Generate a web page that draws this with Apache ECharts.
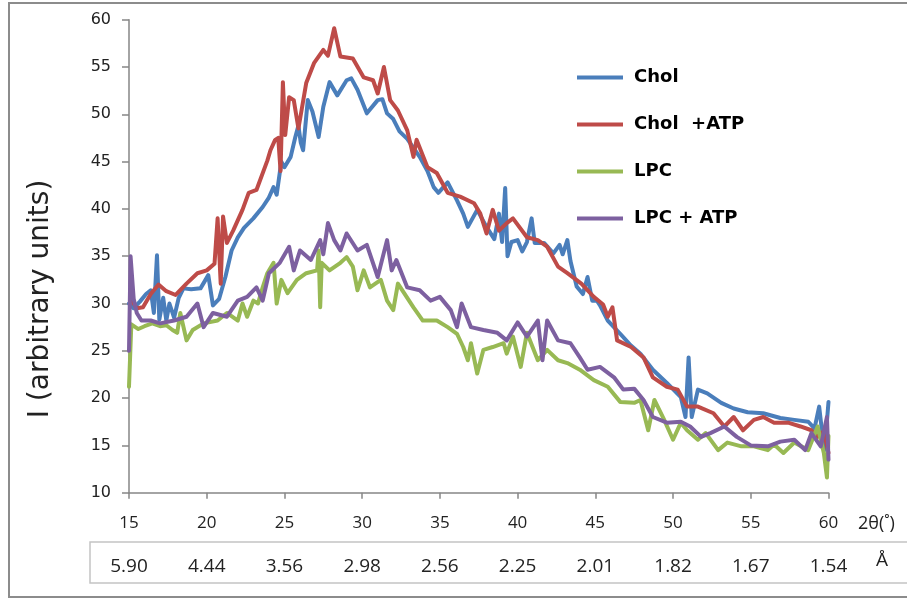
<!DOCTYPE html>
<html><head><meta charset="utf-8">
<script src="https://cdn.jsdelivr.net/npm/echarts@6/dist/echarts.min.js"></script>
<style>html,body{margin:0;padding:0;background:#fff}#c{width:907px;height:600px}</style>
</head><body><div id="c"></div>
<script>
const xTicks = [15,20,25,30,35,40,45,50,55,60];
const dSpacing = ['5.90','4.44','3.56','2.98','2.56','2.25','2.01','1.82','1.67','1.54'];
const seriesNames = ['Chol','Chol  +ATP','LPC','LPC + ATP'];

const cholX = [15.0,15.3,15.7,16.1,16.4,16.6,16.8,16.95,17.2,17.4,17.6,17.9,18.2,18.5,19.0,19.6,20.1,20.4,20.8,21.2,21.6,22.0,22.4,23.0,23.6,24.0,24.3,24.5,24.8,25.0,25.4,25.7,25.9,26.05,26.2,26.5,26.8,27.2,27.5,27.9,28.4,29.0,29.3,29.7,30.3,31.0,31.3,31.6,32.0,32.4,32.9,33.7,34.2,34.6,34.9,35.5,36.1,36.5,36.8,37.4,38.0,38.5,38.8,39.0,39.2,39.35,39.6,40.0,40.3,40.6,40.9,41.1,41.7,42.3,42.7,42.9,43.2,43.4,43.8,44.2,44.5,44.8,45.1,45.3,45.8,46.6,47.2,47.9,48.7,49.6,50.5,50.8,51.0,51.2,51.6,52.2,53.1,53.9,54.8,55.8,56.9,57.8,58.7,59.1,59.4,59.6,59.75,60.0];
const cholY = [30.0,29.5,30.2,31.0,31.4,29.0,35.1,28.3,30.6,28.2,30.0,28.5,30.6,31.6,31.5,31.6,33.0,29.8,30.5,32.8,35.6,37.0,38.0,39.0,40.2,41.2,42.3,41.5,45.0,44.4,45.5,47.6,48.8,47.0,46.2,51.5,50.3,47.6,50.8,53.4,52.0,53.6,53.8,52.6,50.1,51.5,51.6,50.1,49.5,48.2,47.4,45.5,44.0,42.3,41.7,42.8,40.9,39.5,38.1,39.9,38.1,36.8,39.5,36.5,42.2,35.0,36.5,36.7,35.5,36.5,39.0,36.4,36.4,35.3,36.2,35.2,36.7,34.5,31.8,31.0,32.8,30.3,30.3,29.8,28.2,26.8,25.7,24.7,23.0,21.6,20.1,18.0,24.3,18.0,20.9,20.5,19.5,18.9,18.5,18.4,17.9,17.7,17.5,16.8,19.1,16.2,14.5,19.6];

const cholAtpX = [15.1,15.5,15.9,16.4,16.9,17.4,18.0,18.7,19.4,20.0,20.5,20.7,20.9,21.05,21.3,21.7,22.3,22.7,23.2,23.9,24.1,24.4,24.6,24.75,24.9,25.05,25.3,25.6,25.9,26.4,26.9,27.5,27.8,28.2,28.6,29.4,30.1,30.7,31.0,31.4,31.8,32.3,32.9,33.3,33.5,34.2,34.8,35.5,36.3,37.2,37.6,38.0,38.4,38.8,39.3,39.7,40.6,41.3,41.9,42.6,43.2,44.1,44.9,45.5,45.8,46.1,46.4,47.3,48.1,48.7,49.6,50.3,50.9,51.6,52.6,53.3,53.9,54.5,55.2,55.8,56.5,57.4,58.2,58.9,59.3,59.7,60.0];
const cholAtpY = [30.5,29.5,29.6,31.0,32.0,31.3,30.9,32.1,33.2,33.5,34.2,39.0,32.1,39.2,36.4,37.7,39.9,41.7,42.0,45.1,46.2,47.3,47.5,44.0,53.4,47.8,51.8,51.5,48.5,53.3,55.4,56.8,56.2,59.1,56.1,55.9,53.9,53.6,52.2,55.0,51.5,50.4,48.3,45.5,47.3,44.4,43.8,41.7,41.3,40.6,39.5,37.4,39.9,37.7,38.5,39.0,37.0,36.7,36.0,33.9,33.2,32.1,30.7,29.9,28.6,29.6,26.1,25.4,24.3,22.2,21.2,20.9,19.1,19.1,18.4,17.0,18.0,16.6,17.7,18.0,17.4,17.4,17.0,16.6,15.9,16.5,14.2];

const lpcX = [15.0,15.15,15.6,16.0,16.5,17.0,17.4,17.8,18.1,18.3,18.7,19.1,19.8,20.7,21.3,22.0,22.3,22.6,23.0,23.3,23.6,23.9,24.3,24.5,24.8,25.2,25.8,26.4,27.1,27.2,27.3,27.4,27.9,28.6,29.0,29.4,29.7,30.1,30.5,31.2,31.6,32.0,32.3,33.3,33.9,34.8,35.5,36.1,36.5,36.8,37.0,37.4,37.8,38.4,39.1,39.3,39.7,40.2,40.6,41.3,41.9,42.6,43.2,44.0,44.9,45.8,46.6,47.5,47.9,48.4,48.8,49.4,50.0,50.5,50.9,51.6,52.1,52.9,53.5,54.4,55.2,56.1,56.5,57.1,57.8,58.7,59.3,59.7,59.9,60.0];
const lpcY = [21.2,27.8,27.3,27.6,27.9,27.6,27.7,27.2,26.9,29.0,26.1,27.2,27.9,28.2,29.0,28.2,30.0,28.6,30.3,30.0,31.7,33.2,34.3,30.0,32.5,31.1,32.5,33.2,33.5,35.6,29.6,34.3,33.5,34.3,34.9,33.9,31.4,33.5,31.7,32.5,30.3,29.3,32.1,29.6,28.2,28.2,27.5,26.8,25.4,24.0,25.8,22.6,25.1,25.4,25.8,24.7,26.5,23.3,26.9,24.0,25.1,24.0,23.7,23.0,21.9,21.2,19.6,19.5,19.8,16.6,19.8,17.8,15.6,17.4,16.6,15.6,16.3,14.5,15.3,14.9,14.9,14.5,15.1,14.2,15.3,14.5,17.0,14.2,11.6,16.0];

const lpcAtpX = [15.0,15.1,15.3,15.5,15.8,16.4,17.0,17.9,18.7,19.4,19.8,20.4,21.3,22.0,22.6,23.2,23.6,24.0,24.7,25.3,25.6,26.0,26.7,27.3,27.5,27.8,28.2,28.6,29.0,29.7,30.3,31.0,31.6,31.9,32.2,32.9,33.7,34.4,35.0,35.7,36.1,36.4,37.0,37.8,38.7,39.3,40.0,40.6,41.3,41.6,41.9,42.6,43.4,44.0,44.5,45.3,46.2,46.8,47.5,48.1,48.7,49.6,50.5,51.1,51.8,52.4,53.3,54.1,55.0,56.1,56.9,57.8,58.5,58.9,59.5,59.9,60.0];
const lpcAtpY = [25.0,35.0,30.5,29.0,28.2,28.2,27.9,28.2,28.6,30.0,27.5,29.0,28.6,30.3,30.7,31.7,30.3,33.2,34.3,36.0,33.5,35.6,34.6,36.7,35.2,38.5,36.7,35.6,37.4,35.6,36.2,32.8,36.7,33.5,34.6,31.7,31.4,30.3,30.7,29.3,27.5,30.0,27.5,27.2,26.9,26.1,28.0,26.5,28.2,24.0,28.2,26.1,25.8,24.3,23.0,23.3,22.2,20.9,21.0,19.8,18.0,17.4,17.5,17.0,15.9,16.3,17.0,15.9,15.0,14.9,15.4,15.6,14.5,16.3,14.9,18.0,13.5];

const colors = ['#4A7EBB','#BE4B48','#98B954','#7D60A0'];
const xs = [cholX, cholAtpX, lpcX, lpcAtpX];
const ys = [cholY, cholAtpY, lpcY, lpcAtpY];
const zip = (a,b) => a.map((v,i)=>[v,b[i]]);

const chart = echarts.init(document.getElementById('c'), null, {renderer:'canvas'});
const axisColor = '#868686';
chart.setOption({
  animation:false,
  backgroundColor:'#fff',
  grid:{left:129, right:78.5, top:19.7, bottom:107.3, containLabel:false},
  legend:{
    orient:'vertical', left:572, top:62, itemWidth:46, itemHeight:4, itemGap:26, icon:'rect',
    data:seriesNames,
    textStyle:{fontFamily:'DejaVu Sans', fontWeight:'bold', fontSize:18, color:'#000', lineHeight:21, padding:[0,0,0,6]}
  },
  xAxis:[{
    type:'value', min:15, max:60, interval:5,
    axisLine:{lineStyle:{color:axisColor, width:1.5}},
    axisTick:{length:6, lineStyle:{color:axisColor, width:1.5}},
    axisLabel:{color:'#222', fontFamily:'Open Sans', fontSize:17, margin:22},
    splitLine:{show:false}
  },{
    type:'value', min:15, max:60, interval:5, position:'bottom', offset:56,
    axisLine:{show:false}, axisTick:{show:false}, splitLine:{show:false},
    axisLabel:{color:'#222', fontFamily:'Open Sans', fontSize:19, margin:8,
      formatter:(v)=>{const i=xTicks.indexOf(Math.round(v)); return i>=0?dSpacing[i]:'';}}
  }],
  yAxis:{
    type:'value', min:10, max:60, interval:5,
    axisLine:{show:true, lineStyle:{color:axisColor, width:1.5}},
    axisTick:{show:true, length:7, lineStyle:{color:axisColor, width:1.5}},
    axisLabel:{color:'#222', fontFamily:'DejaVu Sans', fontSize:16, margin:18},
    splitLine:{show:false}
  },
  graphic:[
    {type:'rect', shape:{x:9, y:3, width:910, height:594}, style:{fill:'none', stroke:'#8c8c8c', lineWidth:2}, silent:true},
    {type:'rect', shape:{x:90, y:542, width:830, height:41}, style:{fill:'none', stroke:'#c4c4c4', lineWidth:1.5}, silent:true},
    {type:'text', x:41, y:299, rotation:Math.PI/2, style:{text:'I (arbitrary units)', fontFamily:'DejaVu Sans', fontSize:28, fill:'#222', align:'center', verticalAlign:'middle'}},
    {type:'text', left:858, top:515, style:{text:'2θ(˚)', fontFamily:'Open Sans', fontSize:18, fill:'#222'}},
    {type:'text', left:876, top:551, style:{text:'Å', fontFamily:'Open Sans', fontSize:19, fill:'#222'}}
  ],
  series: seriesNames.map((n,i)=>({
    name:n, type:'line', data:zip(xs[i], ys[i]), xAxisIndex:0,
    showSymbol:false, symbol:'none', smooth:false,
    lineStyle:{color:colors[i], width:4, join:'round', cap:'round'},
    itemStyle:{color:colors[i]}
  }))
});
</script></body></html>
